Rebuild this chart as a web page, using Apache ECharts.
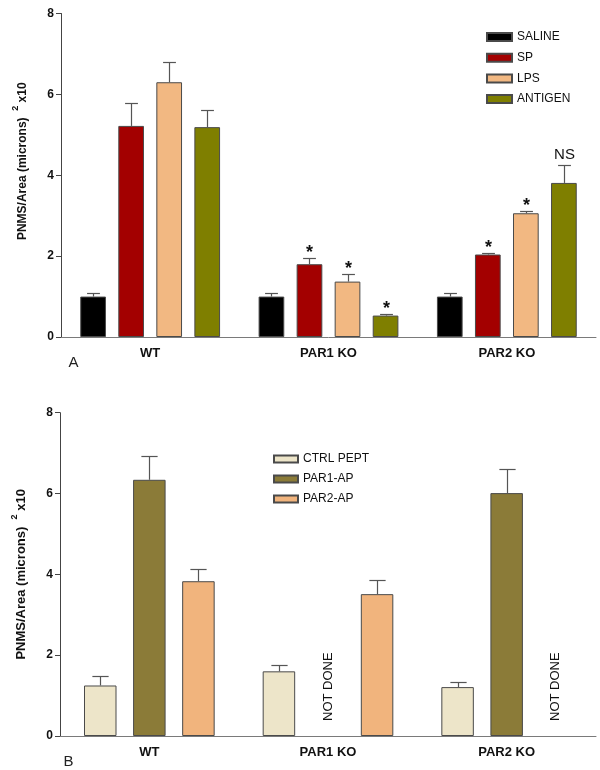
<!DOCTYPE html>
<html><head><meta charset="utf-8">
<script src="https://cdn.jsdelivr.net/npm/echarts@6/dist/echarts.min.js"></script>
<style>html,body{margin:0;padding:0;background:#fff}#c{width:600px;height:770px}</style>
</head><body><div id="c"></div>
<script>
// ---------- data ----------
const groups = ['WT', 'PAR1 KO', 'PAR2 KO'];
const yMin = 0, yMax = 8, yStep = 2;
const yAxisTitleMain = 'PNMS/Area (microns)';
const yAxisTitleSup = '2';
const yAxisTitleTail = 'x10';

// Panel A
const namesA = ['SALINE', 'SP', 'LPS', 'ANTIGEN'];
const salineA = [1.00, 1.00, 1.00];
const salineErrA = [0.10, 0.10, 0.10];
const spA = [5.22, 1.80, 2.04];
const spErrA = [0.57, 0.16, 0.03];
const lpsA = [6.30, 1.37, 3.06];
const lpsErrA = [0.49, 0.20, 0.06];
const antigenA = [5.19, 0.53, 3.81];
const antigenErrA = [0.42, 0.05, 0.44];
const salineMarkA = ['', '', ''];
const spMarkA = ['', '*', '*'];
const lpsMarkA = ['', '*', '*'];
const antigenMarkA = ['', '*', 'NS'];

// Panel B
const namesB = ['CTRL PEPT', 'PAR1-AP', 'PAR2-AP'];
const ctrlB = [1.25, 1.60, 1.21];
const ctrlErrB = [0.23, 0.16, 0.12];
const par1apB = [6.34, null, 6.01];
const par1apErrB = [0.59, null, 0.60];
const par2apB = [3.83, 3.51, null];
const par2apErrB = [0.30, 0.34, null];
const noMarkB = ['', '', ''];
const notDoneText = 'NOT DONE';

// ---------- styles ----------
const FONT = '"Liberation Sans", Arial, sans-serif';
const colorsA = ['#000000', '#a30000', '#f2b882', '#7f7f00'];
const colorsB = ['#ede5c9', '#8b7b38', '#f1b47d'];
const barBorder = '#4a4a4a';
const errColor = '#555555';

function panel(gi, names, vals, errs, marks, colors, barW, gapPct) {
  const n = names.length;
  const pitch = barW * (1 + gapPct / 100);
  const series = names.map((nm, i) => ({
    name: nm, type: 'bar', xAxisIndex: gi, yAxisIndex: gi,
    barWidth: barW, barGap: gapPct + '%',
    itemStyle: { color: colors[i], borderColor: barBorder, borderWidth: 1 },
    data: vals[i].map(v => v === null ? {
      value: 0,
      itemStyle: { color: 'transparent', borderWidth: 0 },
      label: { show: true, formatter: notDoneText, position: 'top', rotate: 90,
        align: 'left', verticalAlign: 'middle', distance: 15,
        fontSize: 13, fontFamily: FONT, color: '#111' }
    } : v)
  }));
  const errData = [], meta = [];
  vals.forEach((arr, i) => arr.forEach((v, j) => {
    if (v === null) return;
    errData.push([j, v, v + errs[i][j]]);
    meta.push({ si: i, mark: marks[i][j] });
  }));
  series.push({
    type: 'custom', xAxisIndex: gi, yAxisIndex: gi, z: 5,
    encode: { x: 0, y: [1, 2] },
    data: errData,
    renderItem: (params, api) => {
      const m = meta[params.dataIndex];
      const p0 = api.coord([api.value(0), api.value(1)]);
      const p1 = api.coord([api.value(0), api.value(2)]);
      const x = Math.round(p0[0] + (m.si - (n - 1) / 2) * pitch) + 0.5;
      const y1 = Math.round(p1[1]) + 0.5;
      const half = barW / 4;
      const ch = [
        { type: 'line', shape: { x1: x, y1: p0[1], x2: x, y2: y1 }, style: { stroke: errColor, lineWidth: 1.2 } },
        { type: 'line', shape: { x1: x - half, y1: y1, x2: x + half, y2: y1 }, style: { stroke: errColor, lineWidth: 1.2 } }
      ];
      if (m.mark) {
        const star = m.mark === '*';
        ch.push({ type: 'text', x: x, y: y1 - (star ? 5 : 11),
          style: { text: m.mark, align: 'center', verticalAlign: 'middle',
            font: (star ? 'bold 18px ' : '15px ') + FONT, fill: '#111' } });
      }
      return { type: 'group', children: ch };
    }
  });
  return series;
}

function yAxisCfg(gi, fs, shift) {
  return {
    type: 'value', gridIndex: gi, min: yMin, max: yMax, interval: yStep,
    axisLine: { show: true, lineStyle: { color: '#444', width: 1 } },
    axisTick: { show: true, length: 5, lineStyle: { color: '#444' } },
    axisLabel: { fontWeight: 'bold', fontSize: 12, color: '#111', margin: 7, fontFamily: FONT },
    splitLine: { show: false },
    name: '{b|' + yAxisTitleMain + '}  {s|' + yAxisTitleSup + '} {b|' + yAxisTitleTail + '}',
    nameLocation: 'middle', nameGap: 32, nameRotate: 90,
    nameTextStyle: { fontWeight: 'bold', fontSize: fs, color: '#111', fontFamily: FONT, lineHeight: 18,
      padding: [0, 0, 0, shift],
      rich: {
        b: { fontWeight: 'bold', fontSize: fs, color: '#111', fontFamily: FONT, lineHeight: 18, verticalAlign: 'bottom' },
        s: { fontWeight: 'bold', fontSize: 9, color: '#111', fontFamily: FONT, lineHeight: 9, verticalAlign: 'top' }
      } }
  };
}
function xAxisCfg(gi) {
  return {
    type: 'category', gridIndex: gi, data: groups,
    axisLine: { lineStyle: { color: '#7a7a7a', width: 1 } },
    axisTick: { show: false },
    axisLabel: { fontWeight: 'bold', fontSize: 13, color: '#111', margin: 10, fontFamily: FONT }
  };
}

const option = {
  animation: false,
  backgroundColor: '#fff',
  textStyle: { fontFamily: FONT },
  grid: [
    { left: 61, right: 4, top: 13.5, height: 323.5 },
    { left: 60, right: 4, top: 412.7, height: 323.3 }
  ],
  xAxis: [xAxisCfg(0), xAxisCfg(1)],
  yAxis: [yAxisCfg(0, 12, 28), yAxisCfg(1, 13, 0)],
  legend: [
    { data: namesA, orient: 'vertical', left: 481, top: 26, itemWidth: 25, itemHeight: 8, itemGap: 8.7,
      icon: 'rect', textStyle: { fontSize: 12, color: '#111', fontFamily: FONT } },
    { data: namesB, orient: 'vertical', left: 268, top: 448, itemWidth: 24, itemHeight: 7, itemGap: 8,
      icon: 'rect', textStyle: { fontSize: 12, color: '#111', fontFamily: FONT } }
  ],
  graphic: [
    { type: 'text', x: 73.5, y: 362.5, style: { text: 'A', align: 'center', verticalAlign: 'middle', font: '15px ' + FONT, fill: '#222' } },
    { type: 'text', x: 68.5, y: 762, style: { text: 'B', align: 'center', verticalAlign: 'middle', font: '15px ' + FONT, fill: '#222' } }
  ],
  series: [].concat(
    panel(0, namesA, [salineA, spA, lpsA, antigenA], [salineErrA, spErrA, lpsErrA, antigenErrA],
      [salineMarkA, spMarkA, lpsMarkA, antigenMarkA], colorsA, 25.7, 48),
    panel(1, namesB, [ctrlB, par1apB, par2apB], [ctrlErrB, par1apErrB, par2apErrB],
      [noMarkB, noMarkB, noMarkB], colorsB, 32.5, 51)
  )
};
echarts.init(document.getElementById('c'), null, { renderer: 'canvas' }).setOption(option);
</script></body></html>
